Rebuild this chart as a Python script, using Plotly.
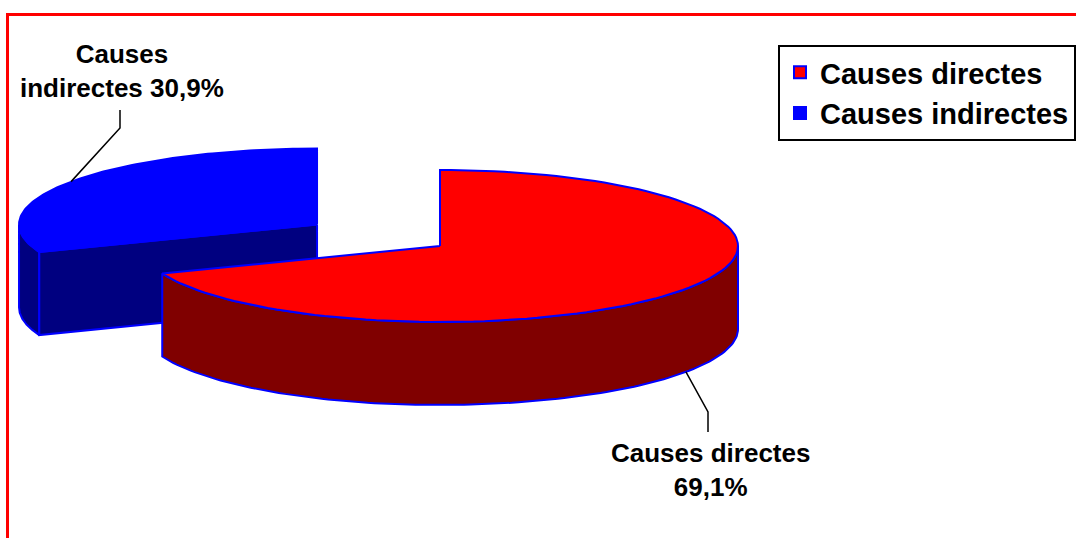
import numpy as np
import plotly.graph_objects as go

# --- data -------------------------------------------------------------
categories = ["Causes directes", "Causes indirectes"]
shares = [69.1, 30.9]
slice_labels = ["Causes directes<br>69,1%", "Causes<br>indirectes 30,9%"]
top_colors = ["#FF0000", "#0000FF"]
side_colors = ["#800000", "#000080"]
explode = [0.0, 0.5]          # pull-out as a fraction of the radius

# --- geometry of the tilted pie (pixel axes, y grows downward) ----------
W, H = 1076, 538
CX, CY = 440.0, 246.0         # centre of the top face
RX, RY = 298.0, 76.0          # radii of the elliptical top face
DEPTH = 83.0                  # thickness of the disc
EDGE = "#0000FF"
FONT = "Liberation Sans, Arial, sans-serif"


def rim(theta, dx, dy, drop=0.0):
    """Point on the rim; theta in degrees clockwise from 12 o'clock."""
    t = np.radians(theta)
    return CX + dx + RX * np.sin(t), CY + dy - RY * np.cos(t) + drop


def arc(a, b, dx, dy, drop=0.0, n=120):
    th = np.linspace(a, b, n)
    return rim(th, dx, dy, drop)


total = float(sum(shares))
slices = []
start = 0.0
for i, v in enumerate(shares):
    sweep = 360.0 * v / total
    a, b = start, start + sweep
    mid = (a + b) / 2.0
    t = np.radians(mid)
    dx = explode[i] * RX * np.sin(t)
    dy = -explode[i] * RY * np.cos(t)
    slices.append(dict(i=i, a=a, b=b, mid=mid, dx=dx, dy=dy))
    start = b

fig = go.Figure()


def poly(xs, ys, fill):
    fig.add_trace(go.Scatter(
        x=np.append(xs, xs[0]), y=np.append(ys, ys[0]),
        mode="lines", fill="toself", fillcolor=fill,
        line=dict(color=EDGE, width=2), hoverinfo="skip", showlegend=False))


# paint back-to-front
for s in sorted(slices, key=lambda s: s["dy"]):
    i, a, b, dx, dy = s["i"], s["a"], s["b"], s["dx"], s["dy"]
    cx, cy = CX + dx, CY + dy
    # outer wall: only the front half (90..270 deg) faces the viewer
    lo, hi = max(a, 90.0), min(b, 270.0)
    if hi > lo:
        tx, ty = arc(lo, hi, dx, dy)
        bx, by = arc(hi, lo, dx, dy, DEPTH)
        poly(np.concatenate([tx, bx]), np.concatenate([ty, by]), side_colors[i])
    # radial cut faces
    for ang, normal in ((a, a - 90.0), (b, b + 90.0)):
        if np.cos(np.radians(normal)) < -1e-9:
            px, py = rim(ang, dx, dy)
            qx, qy = rim(ang, dx, dy, DEPTH)
            poly(np.array([cx, px, qx, cx]),
                 np.array([cy, py, qy, cy + DEPTH]), side_colors[i])
    # top face
    tx, ty = arc(a, b, dx, dy)
    poly(np.concatenate([[cx], tx]), np.concatenate([[cy], ty]), top_colors[i])

# leader lines from the rim at each slice's mid-angle to its label
label_pos = [(710.5, 470.0), (122.0, 71.0)]
elbows = [[(708.0, 412.0), (708.0, 432.0)], [(120.0, 128.0), (120.0, 110.0)]]
for s in slices:
    i = s["i"]
    front = np.cos(np.radians(s["mid"])) < 0
    sx, sy = rim(s["mid"], s["dx"], s["dy"], DEPTH if front else 0.0)
    xs = [sx] + [p[0] for p in elbows[i]]
    ys = [sy] + [p[1] for p in elbows[i]]
    fig.add_trace(go.Scatter(x=xs, y=ys, mode="lines",
                             line=dict(color="black", width=1.5),
                             hoverinfo="skip", showlegend=False))
    fig.add_annotation(x=label_pos[i][0], y=label_pos[i][1], text=slice_labels[i],
                       showarrow=False, xanchor="center", yanchor="middle",
                       font=dict(family=FONT, size=26, color="black", weight="bold"))

# legend entries
for i, name in enumerate(categories):
    fig.add_trace(go.Scatter(
        x=[None], y=[None], mode="markers", name=name,
        marker=dict(symbol="square", size=16, color=top_colors[i],
                    line=dict(color=EDGE, width=1.5))))

# red frame around the chart area (runs off the right and bottom edges)
fig.add_shape(type="rect", xref="paper", yref="paper",
              x0=7.5 / W, y0=1 - 14.5 / H, x1=1.1, y1=-0.1,
              line=dict(color="#FF0000", width=3), fillcolor="rgba(0,0,0,0)")

fig.update_xaxes(range=[0, W], visible=False, fixedrange=True)
fig.update_yaxes(range=[H, 0], visible=False, fixedrange=True)
fig.update_layout(
    width=W, height=H,
    margin=dict(l=0, r=0, t=0, b=0),
    paper_bgcolor="white", plot_bgcolor="white",
    showlegend=True,
    legend=dict(x=1.0, y=1 - 45 / H, xanchor="right", yanchor="top",
                bgcolor="white", bordercolor="black", borderwidth=2,
                font=dict(family=FONT, size=29, color="black", weight="bold"),
                itemsizing="constant"),
)

fig.write_html("out.html")
